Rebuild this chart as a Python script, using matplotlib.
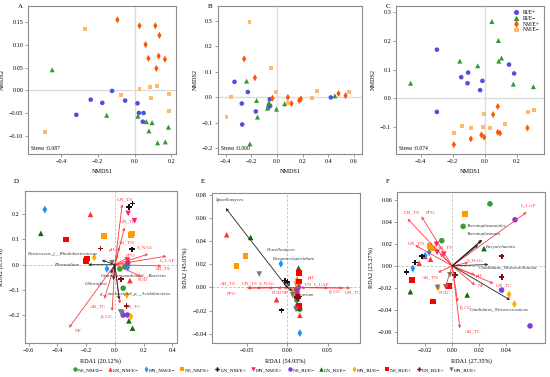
import matplotlib
matplotlib.use('Agg')
import matplotlib.pyplot as plt
from matplotlib.lines import Line2D

plt.rcParams['font.family'] = ['Liberation Serif', 'DejaVu Serif']
plt.rcParams['axes.unicode_minus'] = True

# ---------------- NMDS data (A, B, C) ----------------
nmds_groups = ['RI/E+', 'RI/E\u2212', 'NM/E+', 'NM/E\u2212']

a_x = {
    'RI/E+': [-0.122, -0.238, -0.175, -0.051, 0.016, -0.316, 0.024, 0.049, 0.045],
    'RI/E\u2212': [-0.447, -0.151, 0.018, 0.064, 0.095, 0.078, 0.184, 0.125, 0.167],
    'NM/E+': [-0.093, 0.027, 0.113, 0.135, 0.06, 0.075, 0.131, 0.165, 0.118],
    'NM/E\u2212': [-0.267, 0.027, 0.085, 0.12, 0.185, -0.073, 0.089, 0.189, -0.484],
}
a_y = {
    'RI/E+': [-0.001, -0.02, -0.027, -0.022, -0.028, -0.053, -0.049, -0.049, -0.068],
    'RI/E\u2212': [0.045, -0.054, -0.056, -0.068, -0.07, -0.088, -0.08, -0.114, -0.112],
    'NM/E+': [0.154, 0.141, 0.141, 0.12, 0.10, 0.07, 0.075, 0.068, 0.048],
    'NM/E\u2212': [0.133, 0.004, 0.007, 0.009, -0.007, -0.009, -0.017, -0.044, -0.09],
}
b_x = {
    'RI/E+': [-0.33, -0.226, -0.273, -0.27, -0.164, -0.055, -0.052, -0.065, 0.42],
    'RI/E\u2212': [-0.236, -0.158, -0.151, -0.062, -0.073, -0.003, 0.06, -0.21, 0.452],
    'NM/E+': [-0.255, -0.171, -0.034, 0.086, 0.114, 0.174, 0.187, 0.48, 0.535],
    'NM/E\u2212': [-0.213, -0.047, -0.005, -0.356, -0.392, 0.312, 0.273, 0.086, 0.56],
}
b_y = {
    'RI/E+': [0.06, 0.02, -0.025, -0.107, -0.056, -0.008, -0.034, -0.039, -0.001],
    'RI/E\u2212': [0.063, -0.013, -0.078, -0.021, -0.043, -0.047, -0.026, -0.183, 0.005],
    'NM/E+': [0.15, 0.076, -0.004, -0.001, -0.025, -0.013, -0.007, 0.014, 0.006],
    'NM/E\u2212': [0.295, 0.115, 0.022, -0.001, -0.076, 0.023, -0.004, -0.023, 0.021],
}
c_x = {
    'RI/E+': [-0.299, -0.147, -0.104, -0.108, -0.015, -0.029, 0.151, 0.183, -0.299],
    'RI/E\u2212': [-0.463, -0.156, -0.044, 0.044, 0.085, 0.087, 0.104, 0.178, 0.303],
    'NM/E+': [0.081, 0.052, 0.081, 0.095, -0.021, -0.004, -0.087, -0.193, 0.266],
    'NM/E\u2212': [-0.004, -0.141, -0.089, -0.01, 0.033, 0.127, 0.272, 0.309, -0.191],
}
c_y = {
    'RI/E+': [0.17, 0.074, 0.09, 0.053, 0.061, 0.029, 0.118, 0.087, -0.047],
    'RI/E\u2212': [0.053, 0.13, 0.114, 0.268, 0.202, 0.13, 0.141, 0.05, 0.041],
    'NM/E+': [-0.028, -0.056, -0.118, -0.121, -0.127, -0.135, -0.141, -0.161, -0.103],
    'NM/E\u2212': [-0.055, -0.097, -0.103, -0.1, -0.103, -0.09, -0.046, -0.041, -0.12],
}
stress = ['Stress :0.087', 'Stress :0.060', 'Stress :0.074']

# ---------------- RDA data (D, E, F) ----------------
rda_groups = ['N0_NM/E\u2212', 'LN_NM/E\u2212', 'HN_NM/E\u2212', 'N0_NM/E+', 'LN_NM/E+', 'HN_NM/E+',
              'N0_RI/E\u2212', 'LN_RI/E\u2212', 'HN_RI/E\u2212', 'N0_RI/E+', 'LN_RI/E+', 'HN_RI/E+']

d_grp = [0, 0, 0, 1, 1, 1, 2, 2, 2, 3, 3, 3, 4, 4, 4, 5, 5, 5,
         6, 6, 6, 7, 7, 7, 8, 8, 8, 9, 9, 9, 10, 10, 10, 11, 11, 11]
d_x = [0.035, 0.058, 0.07, -0.17, 0.105, 0.09, -0.488, -0.055, 0.09, -0.077, 0.119, 0.112,
       0.123, 0.098, 0.121, 0.093, 0.137, 0.088, 0.09, 0.058, 0.088, -0.516, 0.098, 0.123,
       -0.144, 0.084, 0.112, -0.34, -0.193, -0.2, -0.1, 0.044, 0.081, 0.04, 0.05, -0.02]
d_y = [-0.017, -0.093, -0.008, 0.199, -0.063, 0.006, 0.218, -0.016, -0.011, 0.113, 0.124, 0.117,
       0.242, 0.229, 0.061, 0.203, 0.174, 0.018, 0.008, -0.199, -0.199, 0.124, -0.222, -0.251,
       0.029, -0.12, -0.205, 0.1, 0.024, 0.015, 0.064, -0.058, -0.163, -0.187, -0.19, 0.008]

e_grp = [0, 0, 0, 1, 1, 1, 2, 2, 2, 3, 3, 3, 4, 4, 4, 5, 5, 5,
         6, 6, 6, 7, 7, 7, 8, 8, 8, 9, 9, 9, 10, 10, 10, 11, 11, 11]
e_x = [0.0156, 0.01, 0.012, -0.0749, -0.0132, 0.0156, -0.0078, 0.0107, 0.0156, -0.0514, -0.0626, 0.0086,
       -0.003, 0.0004, -0.007, 0.0136, 0.013, 0.012, 0.0136, 0.012, 0.011, -0.0453, 0.014, 0.0145,
       0.0123, 0.0115, 0.0074, 0.0148, 0.0144, 0.0144, 0.0115, 0.0148, 0.013, -0.0346, 0.0066, 0.011]
e_y = [-0.0187, -0.004, -0.011, 0.0454, -0.0106, -0.0241, 0.0204, -0.0172, -0.0394, 0.0273, 0.0187, -0.002,
       0.006, 0.005, -0.0198, 0.0014, -0.006, 0.003, 0.0, -0.002, -0.008, 0.0431, 0.0167, -0.018,
       0.0066, 0.0032, -0.0063, 0.0124, 0.0052, -0.0158, -0.0083, -0.0078, -0.009, 0.0115, -0.0063, -0.019]

f_grp = [0, 0, 0, 1, 1, 1, 2, 2, 2, 3, 3, 3, 4, 4, 4, 5, 5, 5,
         6, 6, 6, 7, 7, 7, 8, 8, 8, 9, 9, 9, 10, 10, 10, 11, 11, 11]
f_x = [0.0279, 0.0081, -0.0077, -0.016, -0.0244, -0.02, -0.017, -0.02, -0.0291, 0.0096, -0.0146, -0.0166,
       -0.0225, -0.0274, -0.0338, -0.0116, -0.0062, -0.0111, 0.0464, 0.0365, 0.0575, 0.0235, -0.0309, 0.0111,
       -0.0104, 0.042, 0.0459, -0.0296, -0.0141, -0.0022, 0.002, 0.0365, 0.0365, -0.0109, -0.0047, -0.0017]
f_y = [0.0564, 0.0359, 0.0229, 0.006, 0.0024, 0.0085, 0.0124, 0.0093, -0.0024, 0.0473, 0.0157, 0.018,
       0.0087, 0.003, -0.0054, 0.0196, 0.0106, 0.0124, 0.0419, -0.022, -0.0546, 0.0157, -0.0235, -0.0265,
       -0.0196, -0.026, -0.0347, -0.013, -0.0326, -0.0184, -0.0084, 0.0087, -0.0099, -0.0196, -0.019, -0.0081]

# environmental arrows (tip) and label positions
d_env = ['UN_TS', 'UN_TN', 'AB_TN', 'pH', 'PPO', 'S_NAG', 'L_LAP', 'AB_TS', 'POD', 'UN_TC', 'AB_TC', '\u03b2_GC', 'NP']
d_env_x = [0.051, 0.067, 0.03, 0.02, 0.093, 0.233, 0.36, 0.325, 0.186, 0.035, -0.074, -0.019, -0.319]
d_env_y = [0.239, 0.147, 0.07, 0.04, 0.029, 0.042, 0.034, -0.005, -0.047, -0.153, -0.135, -0.183, -0.249]
d_env_lx = [0.07, 0.093, 0.077, -0.019, 0.109, 0.209, 0.367, 0.337, 0.198, 0.128, -0.116, -0.058, -0.256]
d_env_ly = [0.258, 0.17, 0.087, 0.06, 0.034, 0.067, 0.018, -0.014, -0.06, -0.163, -0.163, -0.205, -0.264]
d_sp = ['Paracoccus_f__Rhodobacteraceae', 'Phormidium', 'Gemmatimonadota_d__Bacteria', 'Chloroflexi',
        'g__unclassified_p__Acidobacteria']
d_sp_x = [-0.09, -0.185, -0.03, -0.01, 0.03]
d_sp_y = [0.018, 0.0, -0.034, -0.06, -0.137]
d_sp_lx = [-0.37, -0.337, 0.128, -0.134, 0.137]
d_sp_ly = [0.042, -0.001, -0.041, -0.076, -0.117]

e_env = ['AB_TS', 'UN_TS', 'S_NAG', 'PPO', 'POD', 'NP', 'UN_TN', 'L_LAP', 'pH', '\u03b2_GC', 'UN_TC']
e_env_x = [-0.05, -0.038, -0.0235, -0.049, -0.012, -0.005, 0.023, 0.0506, 0.0156, 0.069, 0.078]
e_env_y = [-0.0004, -0.0004, -0.0004, -0.0006, -0.0005, -0.0005, -0.0004, -0.0004, -0.0003, -0.0005, -0.0005]
e_env_lx = [-0.0737, -0.046, -0.0247, -0.0687, -0.0132, -0.003, 0.02, 0.042, 0.03, 0.059, 0.0815]
e_env_ly = [0.0037, 0.0037, 0.0037, -0.0055, -0.0049, -0.0049, 0.0023, 0.0023, 0.0078, -0.0043, -0.0043]
e_sp = ['Spizellomyces', 'Powellomyces', 'Paramicrosporidium', 'Fusarium']
e_sp_x = [-0.0761, -0.004, 0.003, 0.006]
e_sp_y = [0.0684, 0.005, 0.004, -0.003]
e_sp_lx = [-0.0708, -0.009, 0.0074, 0.02]
e_sp_ly = [0.075, 0.0325, 0.0244, -0.0063]

f_env = ['L_LAP', 'UN_TS', 'PPO', 'UN_TN', 'AB_TS', 'S_NAG', 'AB_TN', 'pH', 'NP', 'UN_TC', 'POD', '\u03b2_GC', 'AB_TC']
f_env_x = [0.055, -0.033, -0.0227, -0.0272, -0.009, 0.0119, -0.0104, 0.0168, 0.0168, 0.0304, -0.0054, 0.004, 0.0057]
f_env_y = [0.0488, 0.0428, 0.0449, 0.0187, 0.0112, 0.003, -0.006, -0.0084, -0.0175, -0.016, -0.0205, -0.0326, -0.0567]
f_env_lx = [0.0563, -0.0294, -0.016, -0.0264, -0.0054, 0.0168, -0.0165, 0.02, 0.021, 0.0385, -0.0059, 0.0101, 0.0156]
f_env_ly = [0.0549, 0.0488, 0.0479, 0.0202, 0.0172, 0.0051, -0.0106, -0.0093, -0.0184, -0.0175, -0.025, -0.038, -0.0597]
f_sp = ['Thermoplasmatales', 'Thermoplasmata', 'Euryarchaeota', 'Candidatus_Woesearchaeota', 'Candidatus_Nitrosocosmicus']
f_sp_x = [0.0222, 0.0215, 0.019, 0.0267, 0.0427]
f_sp_y = [0.0238, 0.0228, 0.019, 0.0012, -0.031]
f_sp_lx = [0.025, 0.0235, 0.035, 0.0415, 0.035]
f_sp_ly = [0.0359, 0.0292, 0.0169, -0.0018, -0.040]

# ---------------- styles ----------------
nmds_style = {
    'RI/E+': dict(marker='o', color='#5050dd', s=11),
    'RI/E\u2212': dict(marker='^', color='#2f9a2f', s=13),
    'NM/E+': dict(marker='d', color='#ff5500', s=13),
    'NM/E\u2212': dict(marker='s', color='#ffb870', s=8),
}
rda_marker = ['o', '^', 'd', 's', 'P', 'v', 'o', '^', 'd', 's', 'P', 'v']
rda_color = ['#2e9e3a', '#ff3333', '#1e8fff', '#ff9a00', '#111111', '#ff1a75',
             '#7b3fd4', '#0b6b0b', '#ffaa00', '#ff0000', '#8b0a0a', '#777777']
env_col = '#ff3a3a'
spine_col = '#8c8c8c'
fs = 4.4

fig = plt.figure(figsize=(5.5, 3.77), dpi=100)


def style_axes(ax):
    for sp in ax.spines.values():
        sp.set_color(spine_col)
        sp.set_linewidth(0.8)
    ax.tick_params(labelsize=fs, length=2, width=0.6, color=spine_col, pad=1.5)


def nmds_panel(rect, xs, ys, xlim, ylim, xt, yt, fmt, st, letter, show_leg=False):
    ax = fig.add_axes(rect)
    ax.axhline(0, color='#dcdcdc', lw=1.0, zorder=0)
    ax.axvline(0, color='#dcdcdc', lw=1.0, zorder=0)
    for g in nmds_groups:
        ax.scatter(xs[g], ys[g], label=g, edgecolors='none', zorder=3, **nmds_style[g])
    ax.set_xlim(*xlim)
    ax.set_ylim(*ylim)
    ax.set_xticks(xt)
    ax.set_yticks(yt)
    ax.set_yticklabels([fmt.format(v).replace('-', '\u2212') for v in yt])
    ax.set_xticklabels(['{:.1f}'.format(v).replace('-', '\u2212') for v in xt])
    ax.set_xlabel('NMDS1', fontsize=fs, labelpad=4)
    ax.set_ylabel('NMDS2', fontsize=fs, labelpad=3)
    ax.text(0.02, 0.02, st, transform=ax.transAxes, fontsize=4, va='bottom')
    style_axes(ax)
    fig.text(rect[0] - 0.018, 0.99, letter, fontsize=5, va='top')
    if show_leg:
        ax.legend(loc='upper right', fontsize=4, frameon=False, handletextpad=0.2,
                  labelspacing=0.15, borderaxespad=0.3, markerscale=1.1)
    return ax


def rda_panel(rect, gx, gy, gg, env, ex, ey, elx, ely, sp, sx, sy, slx, sly,
              xlim, ylim, xt, yt, xfmt, yfmt, xlab, ylab, letter):
    ax = fig.add_axes(rect)
    ax.axhline(0, color='#bdbdbd', lw=0.6, ls=(0, (3, 2)), zorder=0)
    ax.axvline(0, color='#bdbdbd', lw=0.6, ls=(0, (3, 2)), zorder=0)
    for i in range(len(gx)):
        g = gg[i]
        ax.scatter(gx[i], gy[i], marker=rda_marker[g], color=rda_color[g], s=16,
                   edgecolors='none', zorder=3)
    for i, name in enumerate(env):
        ax.annotate('', xy=(ex[i], ey[i]), xytext=(0, 0),
                    arrowprops=dict(arrowstyle='->', color=env_col, lw=0.6, mutation_scale=4,
                                    shrinkA=0, shrinkB=0), zorder=4)
        ax.text(elx[i], ely[i], name, color=env_col, fontsize=3.7, ha='center', va='center', zorder=5)
    for i, name in enumerate(sp):
        ax.annotate('', xy=(sx[i], sy[i]), xytext=(0, 0),
                    arrowprops=dict(arrowstyle='->', color='#222222', lw=0.6, mutation_scale=4,
                                    shrinkA=0, shrinkB=0), zorder=4)
        ax.text(slx[i], sly[i], name, color='#333333', fontsize=3.6, style='italic',
                ha='center', va='center', zorder=5)
    ax.set_xlim(*xlim)
    ax.set_ylim(*ylim)
    ax.set_xticks(xt)
    ax.set_yticks(yt)
    ax.set_xticklabels([xfmt.format(v).replace('-', '\u2212') for v in xt])
    ax.set_yticklabels([yfmt.format(v).replace('-', '\u2212') for v in yt])
    ax.set_xlabel(xlab, fontsize=fs, labelpad=4)
    ax.set_ylabel(ylab, fontsize=fs, labelpad=3)
    style_axes(ax)
    fig.text(rect[0] - 0.02, 0.525, letter, fontsize=5, va='top')
    return ax


nmds_panel([0.051, 0.592, 0.269, 0.392], a_x, a_y, (-0.578, 0.225), (-0.138, 0.184),
           [-0.4, -0.2, 0.0, 0.2], [-0.10, -0.05, 0.0, 0.05, 0.10, 0.15], '{:.2f}', stress[0], 'A')
nmds_panel([0.396, 0.592, 0.262, 0.392], b_x, b_y, (-0.46, 0.662), (-0.222, 0.357),
           [-0.4, -0.2, 0.0, 0.2, 0.4, 0.6], [-0.2, -0.1, 0.0, 0.1, 0.2, 0.3], '{:.1f}', stress[1], 'B')
nmds_panel([0.72, 0.592, 0.269, 0.392], c_x, c_y, (-0.554, 0.369), (-0.193, 0.322),
           [-0.4, -0.2, 0.0, 0.2], [-0.1, 0.0, 0.1, 0.2, 0.3], '{:.1f}', stress[2], 'C', show_leg=True)

rda_panel([0.045, 0.09, 0.276, 0.403], d_x, d_y, d_grp, d_env, d_env_x, d_env_y, d_env_lx, d_env_ly,
          d_sp, d_sp_x, d_sp_y, d_sp_lx, d_sp_ly, (-0.628, 0.43), (-0.31, 0.291),
          [-0.6, -0.4, -0.2, 0.0, 0.2, 0.4], [-0.2, -0.1, 0.0, 0.1, 0.2], '{:.1f}', '{:.1f}',
          'RDA1 (20.12%)', 'RDA2 (8.31%)', 'D')
rda_panel([0.385, 0.09, 0.269, 0.398], e_x, e_y, e_grp, e_env, e_env_x, e_env_y, e_env_lx, e_env_ly,
          e_sp, e_sp_x, e_sp_y, e_sp_lx, e_sp_ly, (-0.0934, 0.0897), (-0.048, 0.0814),
          [-0.05, 0.0, 0.05], [-0.04, -0.02, 0.0, 0.02, 0.04, 0.06, 0.08], '{:.2f}', '{:.2f}',
          'RDA1 (54.95%)', 'RDA2 (45.05%)', 'E')
rda_panel([0.722, 0.09, 0.269, 0.40], f_x, f_y, f_grp, f_env, f_env_x, f_env_y, f_env_lx, f_env_ly,
          f_sp, f_sp_x, f_sp_y, f_sp_lx, f_sp_ly, (-0.0407, 0.0686), (-0.0702, 0.0669),
          [-0.02, 0.0, 0.02, 0.04], [-0.06, -0.04, -0.02, 0.0, 0.02, 0.04, 0.06], '{:.2f}', '{:.2f}',
          'RDA1 (27.35%)', 'RDA2 (23.27%)', 'F')

handles = [Line2D([], [], marker=rda_marker[i], color=rda_color[i], ls='none', markersize=3.2,
                  markeredgewidth=0) for i in range(len(rda_groups))]
fig.legend(handles, rda_groups, loc='lower center', bbox_to_anchor=(0.5, 0.0), ncol=12,
           fontsize=3.8, frameon=False, handletextpad=0.05, columnspacing=0.8, handlelength=1.0)

fig.savefig('out.png', dpi=100)
